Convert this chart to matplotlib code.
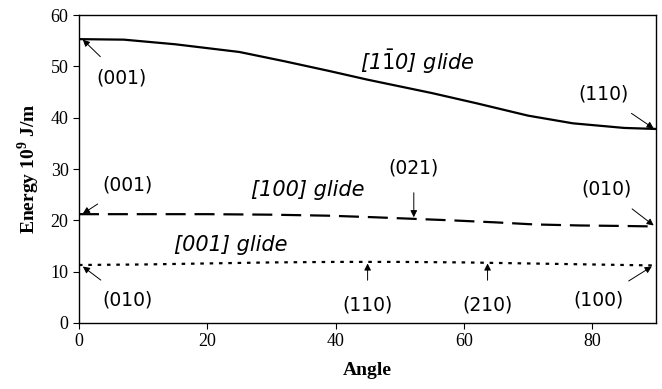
import numpy as np
import matplotlib.pyplot as plt

plt.rcParams["mathtext.fontset"] = "custom"
plt.rcParams["mathtext.it"] = "DejaVu Sans:italic"
plt.rcParams["mathtext.rm"] = "DejaVu Sans"
plt.rcParams["mathtext.bf"] = "Liberation Serif:bold"

# [1-10] glide (solid)
ang_110 = [0, 7, 15, 25, 32, 39, 45, 55, 62, 70, 77, 85, 90]
e_110 = [55.3, 55.2, 54.3, 52.8, 51.0, 49.1, 47.4, 44.8, 42.8, 40.4, 38.9, 38.0, 37.8]

# [100] glide (dashed)
ang_100 = [0, 10, 20, 30, 39, 46, 52, 58, 65, 71, 78, 85, 90]
e_100 = [21.2, 21.2, 21.2, 21.1, 20.9, 20.6, 20.3, 20.0, 19.6, 19.2, 19.0, 18.9, 18.8]

# [001] glide (dotted)
ang_001 = [0, 10, 20, 30, 40, 50, 60, 70, 80, 90]
e_001 = [11.3, 11.4, 11.6, 11.8, 11.9, 11.9, 11.8, 11.6, 11.4, 11.2]

x_ticks = [0, 20, 40, 60, 80]
y_ticks = [0, 10, 20, 30, 40, 50, 60]

# (label, arrow tip, text centre)
plane_labels = [
    ("(001)", (0.6, 55.2), (6.7, 47.8)),
    ("(110)", (89.6, 37.9), (81.7, 44.6)),
    ("(001)", (0.6, 21.3), (7.5, 26.9)),
    ("(021)", (52.2, 20.6), (52.2, 30.2)),
    ("(010)", (89.6, 19.0), (82.2, 26.1)),
    ("(010)", (0.6, 11.0), (7.5, 4.5)),
    ("(110)", (45.0, 11.6), (45.0, 3.5)),
    ("(210)", (63.7, 11.6), (63.7, 3.5)),
    ("(100)", (89.3, 11.0), (81.0, 4.5)),
]

glide_labels = [
    (r"[1$\bar{\mathit{1}}$0] glide", (52.8, 50.8)),
    ("[100] glide", (35.6, 25.9)),
    ("[001] glide", (23.6, 15.2)),
]

fig = plt.figure(figsize=(6.62, 3.89), dpi=100, facecolor="white")
ax = fig.add_axes([0.1193, 0.1697, 0.872, 0.7917])

ax.plot(ang_110, e_110, color="black", lw=1.6, solid_capstyle="butt")
ax.plot(ang_100, e_100, color="black", lw=1.6, dashes=(9, 4))
ax.plot(ang_001, e_001, color="black", lw=1.6, dashes=(1.6, 2.6))

for txt, tip, pos in plane_labels:
    ax.annotate(txt, xy=tip, xytext=pos, ha="center", va="center",
                fontsize=13.5, family="DejaVu Sans",
                arrowprops=dict(arrowstyle="-|>", color="black", lw=0.7,
                                mutation_scale=10, shrinkA=9, shrinkB=0))

for txt, pos in glide_labels:
    ax.text(pos[0], pos[1], txt, ha="center", va="center", fontsize=15,
            style="italic", family="DejaVu Sans")

ax.set_xlim(0, 90)
ax.set_ylim(0, 60)
ax.set_xticks(x_ticks)
ax.set_yticks(y_ticks)
ax.tick_params(direction="out", length=4, width=0.8, labelsize=13)
for lab in ax.get_xticklabels() + ax.get_yticklabels():
    lab.set_family("Liberation Serif")
for spine in ax.spines.values():
    spine.set_linewidth(1.0)

ax.set_xlabel("Angle", fontsize=14, fontweight="bold", family="Liberation Serif",
              labelpad=8)
ax.set_ylabel(r"Energy 10$^{\mathbf{9}}$ J/m", fontsize=14, fontweight="bold",
              family="Liberation Serif", labelpad=6)

fig.savefig("out.png", dpi=100, facecolor="white")
